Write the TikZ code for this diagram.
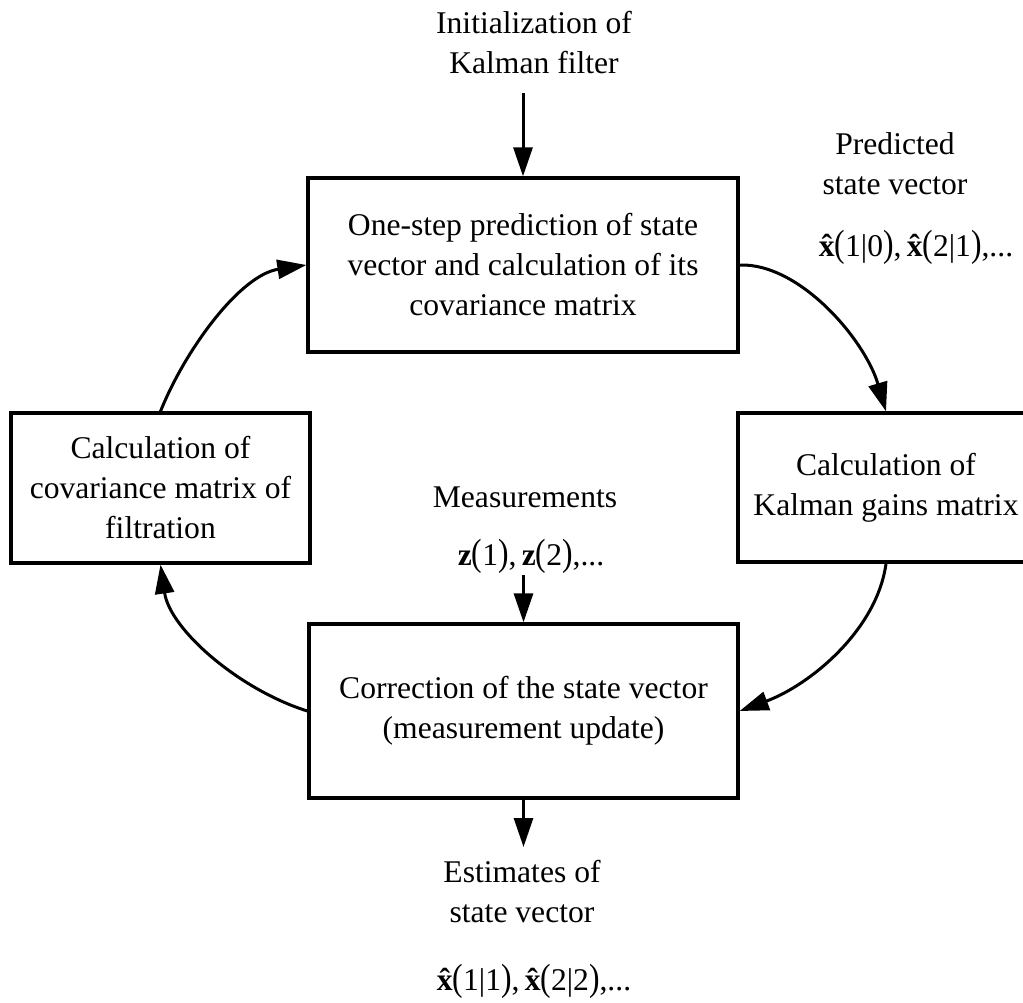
\documentclass[tikz,border=0pt]{standalone}
\usepackage{fontspec}
\setmainfont{Liberation Serif}
\usepackage{graphicx}
\usetikzlibrary{arrows.meta}
\newcommand\xhat{\textbf{\ooalign{x\cr\hidewidth\char"02C6\hidewidth\cr}}}
\newcommand\zb{\textbf{z}}
\newcommand\LP{\scalebox{1}[1.2]{(}}
\newcommand\RP{\scalebox{1}[1.2]{)}}
\newcommand\VB{|}
\tikzset{
  box/.style={draw, line width=3.3pt, align=center, inner sep=0pt},
  txt/.style={align=center, inner sep=0pt},
  arr/.style={line width=3pt, -{Triangle[length=29pt,width=19pt]}}
}
\begin{document}
\begin{tikzpicture}[x=1pt,y=-1pt,font=\fontsize{31.6}{40}\selectfont]
\useasboundingbox (0,0) rectangle (1023,1003);
% boxes
\node[box, minimum width=430pt, minimum height=174pt] (top) at (523,265)
  {One-step prediction of state\\vector and calculation of its\\covariance matrix};
\node[box, minimum width=299pt, minimum height=150pt] (left) at (160.5,488)
  {Calculation of\\covariance matrix of\\filtration};
\node[box, minimum width=296pt, minimum height=149pt] (right) at (886,487.5)
  {Calculation of\\Kalman gains matrix};
\node[box, minimum width=429pt, minimum height=174pt] (bottom) at (523.5,711)
  {Correction of the state vector\\(measurement update)};
% free texts
\node[txt] (init) at (534,42.2) {Initialization of\\Kalman filter};
\node[txt] (pred) at (895,164) {Predicted\\state vector};
\node[txt, anchor=base] (predx) at (916,257)
  {\xhat\LP1\VB0\RP,\,\xhat\LP2\VB1\RP,...};
\node[txt, anchor=base] (meas) at (525,507) {Measurements};
\node[txt, anchor=base] (measz) at (531,565) {\zb\LP1\RP,\,\zb\LP2\RP,...};
\node[txt] (est) at (522,891.7) {Estimates of\\state vector};
\node[txt, anchor=base] (estx) at (534,990)
  {\xhat\LP1\VB1\RP,\,\xhat\LP2\VB2\RP,...};
% connector ends
\coordinate (i0) at (523,93);
\coordinate (m0) at (523.5,575);
\coordinate (o1) at (523.5,847);
% straight arrows
\draw[arr] (i0) -- (top.north);
\draw[arr] (m0) -- (bottom.north);
\draw[arr] (bottom.south) -- (o1);
% curved arrows
\draw[arr] (top.east) .. controls (800,263) and (865,340) .. (right.north);
\draw[arr] (right.south) .. controls (877,630) and (810,685) .. (bottom.east);
\draw[arr] (bottom.west) .. controls (240,690) and (170,630) .. (left.south);
\draw[arr] (left.north) .. controls (185,350) and (240,275) .. (top.west);
\end{tikzpicture}
\end{document}
